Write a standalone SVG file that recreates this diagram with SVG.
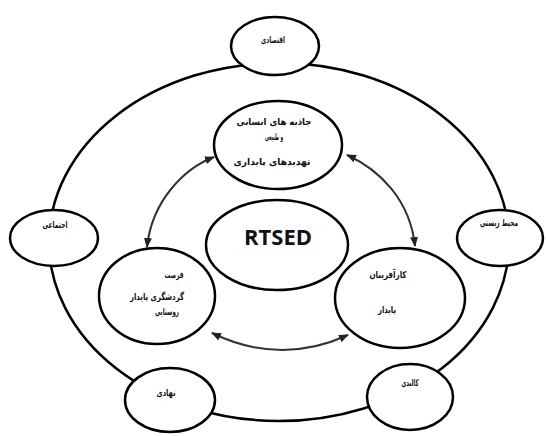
<svg xmlns="http://www.w3.org/2000/svg" width="546" height="436" viewBox="0 0 546 436">
<defs>
<style>
.n{fill:#fff;stroke:#000;stroke-width:2.5}
.ring{fill:none;stroke:#000;stroke-width:2.5}
.c{fill:none;stroke:#333;stroke-width:2}
.t{font-family:"DejaVu Sans",sans-serif;font-weight:bold;font-size:9.5px;fill:#111;text-anchor:middle}
.big{font-family:"Open Sans","Liberation Sans",sans-serif;font-weight:bold;font-size:22px;fill:#111;text-anchor:middle}
</style>
<marker id="a" viewBox="0 0 10 10" refX="9" refY="5" markerWidth="5" markerHeight="5" orient="auto-start-reverse">
<path d="M0 1 L10 5 L0 9 z" fill="#222"/>
</marker>
</defs>
<rect width="546" height="436" fill="#fff"/>
<ellipse class="ring" cx="279" cy="242" rx="230" ry="179"/>
<g id="connectors">
<path class="c" d="M214 157 C185 168 152 200 147 247" marker-start="url(#a)" marker-end="url(#a)"/>
<path class="c" d="M347 155 C380 170 410 200 415 246" marker-start="url(#a)" marker-end="url(#a)"/>
<path class="c" d="M212 333 Q280 366 348 335" marker-start="url(#a)" marker-end="url(#a)"/>
</g>
<g id="n-eqtesadi"><ellipse class="n" cx="275" cy="46" rx="44" ry="29"/><text class="t" x="273" y="43" textLength="24" lengthAdjust="spacingAndGlyphs">اقتصادی</text></g>
<g id="n-ejtemai"><ellipse class="n" cx="54" cy="238" rx="44" ry="28"/><text class="t" x="55" y="228" textLength="25" lengthAdjust="spacingAndGlyphs">اجتماعی</text></g>
<g id="n-mohit"><ellipse class="n" cx="500" cy="238" rx="43" ry="28"/><text class="t" x="499" y="226" textLength="38" lengthAdjust="spacingAndGlyphs">محیط زیستی</text></g>
<g id="n-nahadi"><ellipse class="n" cx="170" cy="400" rx="45" ry="32"/><text class="t" x="166" y="396" textLength="19" lengthAdjust="spacingAndGlyphs">نهادی</text></g>
<g id="n-kalbadi"><ellipse class="n" cx="410" cy="397" rx="43" ry="33"/><text class="t" x="410" y="386" textLength="17" lengthAdjust="spacingAndGlyphs">کالبدی</text></g>
<g id="n-jazebe"><ellipse class="n" cx="278" cy="145" rx="64" ry="44"/>
<text class="t" x="274" y="125" textLength="75" lengthAdjust="spacingAndGlyphs">جاذبه های انسانی</text>
<text class="t" x="274" y="140" textLength="18" lengthAdjust="spacingAndGlyphs">و طبیعی</text>
<text class="t" x="272" y="165" textLength="77" lengthAdjust="spacingAndGlyphs">تهدیدهای پایداری</text></g>
<g id="n-rtsed"><ellipse class="n" cx="277" cy="245" rx="71" ry="45"/><text class="big" x="278" y="245">RTSED</text></g>
<g id="n-forsat"><ellipse class="n" cx="157" cy="296" rx="58" ry="48"/>
<text class="t" x="174" y="278" textLength="19" lengthAdjust="spacingAndGlyphs">فرصت</text>
<text class="t" x="157" y="300" textLength="54" lengthAdjust="spacingAndGlyphs">گردشگری پایدار</text>
<text class="t" x="167" y="315" textLength="24" lengthAdjust="spacingAndGlyphs">روستایی</text></g>
<g id="n-karafarin"><ellipse class="n" cx="400" cy="298" rx="65" ry="50"/>
<text class="t" x="388" y="278" textLength="37" lengthAdjust="spacingAndGlyphs">کارآفرینان</text>
<text class="t" x="387" y="313" textLength="18" lengthAdjust="spacingAndGlyphs">پایدار</text></g>
</svg>
